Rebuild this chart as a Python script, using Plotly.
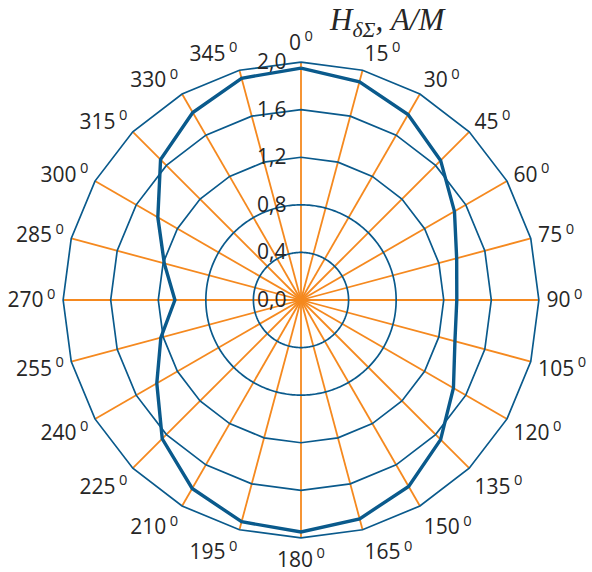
import numpy as np
import plotly.graph_objects as go

# Data
angles = list(range(0, 360, 15))
values = [1.95, 1.90, 1.80, 1.66, 1.49, 1.355, 1.31, 1.34, 1.48, 1.66, 1.81, 1.905,
          1.95, 1.93, 1.83, 1.65, 1.40, 1.22, 1.06, 1.19, 1.39, 1.67, 1.82, 1.93]
radial_ticks = [0.0, 0.4, 0.8, 1.2, 1.6, 2.0]
radial_labels = ["0,0", "0,4", "0,8", "1,2", "1,6", "2,0"]
angle_labels = [f"{a}\u2009<sup>0</sup>" for a in angles]
circle_rings = [0.4, 0.8]
polygon_rings = [1.2, 1.6, 2.0]
r_max = 2.0

BLUE = "#0a5a8c"
ORANGE = "#f5891f"
TXT = "#262626"

fig = go.Figure()

# orange spokes
for a in angles:
    fig.add_trace(go.Scatterpolar(r=[0, r_max], theta=[a, a], mode="lines",
                                  line=dict(color=ORANGE, width=1.8), hoverinfo="skip",
                                  showlegend=False))

# smooth circular rings
circ_theta = np.linspace(0, 360, 361)
for r in circle_rings:
    fig.add_trace(go.Scatterpolar(r=[r] * len(circ_theta), theta=circ_theta, mode="lines",
                                  line=dict(color=BLUE, width=1.7), hoverinfo="skip",
                                  showlegend=False))
# polygonal rings
for r in polygon_rings:
    fig.add_trace(go.Scatterpolar(r=[r] * (len(angles) + 1), theta=angles + [angles[0]],
                                  mode="lines", line=dict(color=BLUE, width=1.7),
                                  hoverinfo="skip", showlegend=False))

# data
fig.add_trace(go.Scatterpolar(r=values + [values[0]], theta=angles + [angles[0]], mode="lines",
                              line=dict(color=BLUE, width=3.4), showlegend=False))

fig.update_layout(
    width=592, height=572,
    margin=dict(l=56, r=46, t=55, b=27),
    paper_bgcolor="white",
    font=dict(family="Open Sans", size=21, color=TXT),
    showlegend=False,
    polar=dict(
        bgcolor="white",
        domain=dict(x=[0, 1], y=[0, 1]),
        radialaxis=dict(range=[0, 2.06], tickvals=radial_ticks,
                        ticktext=[t + "\u00a0\u00a0" for t in radial_labels],
                        showgrid=False, showline=False, ticks="", angle=90, tickangle=90,
                        side="counterclockwise", layer="above traces",
                        tickfont=dict(family="Open Sans", size=21, color=TXT)),
        angularaxis=dict(rotation=90, direction="clockwise", tickmode="array",
                         tickvals=angles, ticktext=angle_labels,
                         showgrid=False, showline=False, ticks="",
                         tickfont=dict(family="Open Sans", size=21, color=TXT)),
    ),
)

fig.add_annotation(text="<i>H</i><sub><i>δΣ</i></sub><i>, A/M</i>", xref="paper", yref="paper",
                   x=0.799, y=1.068, xanchor="right", yanchor="middle", showarrow=False,
                   font=dict(family="Liberation Serif", size=31, color=TXT))

fig.write_html("out.html", config={"displayModeBar": False},
               post_script="document.body.style.margin='0';")
